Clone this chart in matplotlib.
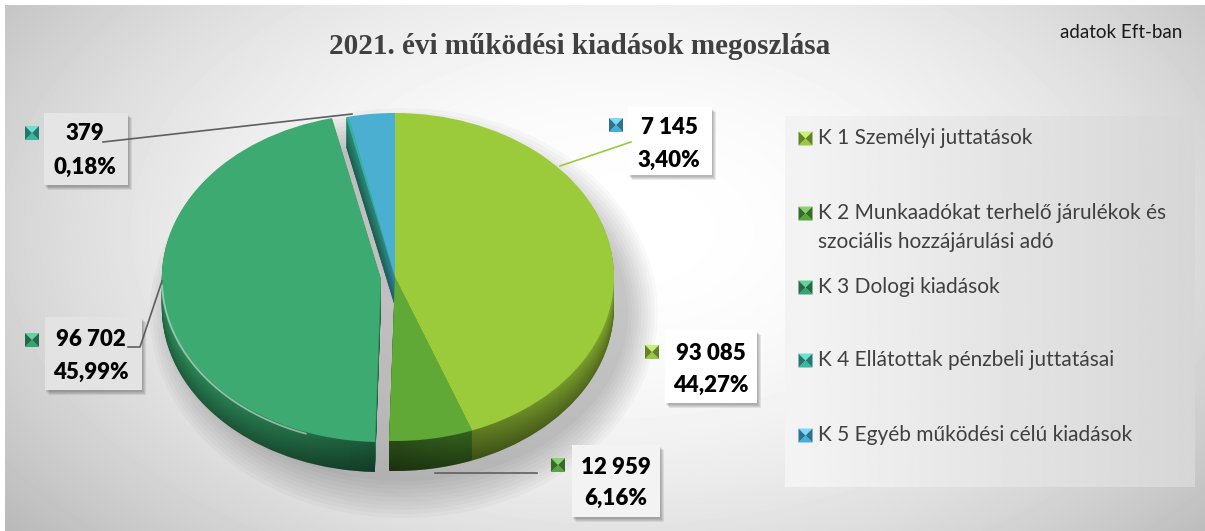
import numpy as np
import matplotlib
matplotlib.use("Agg")
import matplotlib.pyplot as plt
from matplotlib.patches import Rectangle, Polygon, Ellipse, PathPatch
from matplotlib.path import Path
import matplotlib.colors as mcolors

# ---------------- data ----------------
categories = [
    "K 1 Személyi juttatások",
    "K 2 Munkaadókat terhelő járulékok és\nszociális hozzájárulási adó",
    "K 3 Dologi kiadások",
    "K 4 Ellátottak pénzbeli juttatásai",
    "K 5 Egyéb működési célú kiadások",
]
values = [93085, 12959, 96702, 379, 7145]
title = "2021. évi működési kiadások megoszlása"
unit_note = "adatok Eft-ban"

# ---------------- style ----------------
top_colors = ["#9BCB3B", "#60A937", "#3DAA72", "#3AB39C", "#4BAFD2"]
side_colors = ["#8AB332", "#4E8F2C", "#329A64", "#2E9A85", "#3C98BA"]
marker_colors = ["#8DBB38", "#4F9A37", "#2F9966", "#33AA99", "#3FA2CB"]
explode = [0, 0, 0.065, 0, 0]

W, H = 1205, 531
fig = plt.figure(figsize=(W / 100, H / 100), dpi=100)
fig.patch.set_facecolor("white")


def bg_value(x, y):
    d2 = ((x - 620) / 700.0) ** 2 + ((y - 230) / 420.0) ** 2
    return np.clip(255 - 55 * d2, 0, 255) / 255.0


# background (radial gradient)
ax_bg = fig.add_axes([0, 0, 1, 1])
ax_bg.set_xlim(0, W)
ax_bg.set_ylim(H, 0)
ax_bg.axis("off")
yy, xx = np.mgrid[5:H, 5:W]
ax_bg.imshow(bg_value(xx, yy), cmap="gray", vmin=0, vmax=1, extent=(5, W, H, 5),
             aspect="auto", interpolation="bilinear", zorder=0)

# legend box gradient
lx0, lx1, ly0, ly1 = 785, 1195, 116, 487
grad = np.linspace(244, 214, 200)[None, :] / 255.0
grad = np.repeat(grad, 10, axis=0)
ax_bg.imshow(grad, cmap="gray", vmin=0, vmax=1, extent=(lx0, lx1, ly1, ly0),
             aspect="auto", interpolation="bilinear", zorder=1)

# ---------------- pie ----------------
cx_px, cy_px, rx_px, ry_px = 395, 277, 219, 164
depth_px = 30
ax_l, ax_r, ax_t, ax_b = 95, 695, 60, 525
ax = fig.add_axes([ax_l / W, (H - ax_b) / H, (ax_r - ax_l) / W, (ax_b - ax_t) / H])
ax.patch.set_alpha(0)

# soft shadow under the pie
for k in range(10):
    ax.add_patch(Ellipse((0.04, -0.22), 2.05 + 0.03 * k, 2.05 + 0.05 * k,
                         facecolor="black", edgecolor="none", alpha=0.025, zorder=0))


def shade(c, f):
    r, g, b = mcolors.to_rgb(c)
    return (min(1, r * f), min(1, g * f), min(1, b * f))


depth = depth_px / ry_px
n_layers = 30
for i in range(n_layers, 0, -1):
    t = i / n_layers
    cols = [shade(c, 0.92 - 0.32 * t) for c in side_colors]
    ax.pie(values, explode=explode, colors=cols, startangle=90, counterclock=False,
           center=(0, -depth * t), radius=1,
           wedgeprops=dict(linewidth=0.3, edgecolor="none"))
ax.pie(values, explode=explode, colors=top_colors, startangle=90, counterclock=False,
       center=(0, 0), radius=1, wedgeprops=dict(linewidth=0))
ax.set_aspect("auto")
ax.set_xlim(-(cx_px - ax_l) / rx_px, (ax_r - cx_px) / rx_px)
ax.set_ylim(-(ax_b - cy_px) / ry_px, (cy_px - ax_t) / ry_px)
ax.axis("off")

# ---------------- overlay (side shading, labels, legend, title) ----------------
ov = fig.add_axes([0, 0, 1, 1])
ov.set_xlim(0, W)
ov.set_ylim(H, 0)
ov.axis("off")
ov.patch.set_alpha(0)

# side shading: darker towards the front centre, clipped to the visible side band
total = sum(values)
cum = np.concatenate([[0], np.cumsum(values)]) / total
ang_start = 90 - 360 * cum[:-1]
ang_end = 90 - 360 * cum[1:]
verts, codes = [], []
for i in range(len(values)):
    a1, a2 = ang_start[i], ang_end[i]
    lo, hi = max(min(a1, a2), -180), min(max(a1, a2), 0)
    if lo >= hi:
        continue
    mid = np.radians((a1 + a2) / 2)
    ox = explode[i] * np.cos(mid) * rx_px
    oy = -explode[i] * np.sin(mid) * ry_px
    th = np.radians(np.linspace(hi, lo, 80))
    top = np.column_stack([cx_px + ox + rx_px * np.cos(th), cy_px + oy - ry_px * np.sin(th)])
    bot = top[::-1] + np.array([0, depth_px])
    poly = np.vstack([top, bot, top[:1]])
    verts.extend(poly.tolist())
    codes.extend([Path.MOVETO] + [Path.LINETO] * (len(poly) - 2) + [Path.CLOSEPOLY])
side_path = Path(verts, codes)
clip_patch = PathPatch(side_path, transform=ov.transData, facecolor="none", edgecolor="none")
ov.add_patch(clip_patch)
gx = np.linspace(cx_px - rx_px - 20, cx_px + rx_px + 10, 300)
alpha_row = 0.42 * np.clip(1 - np.abs(gx - cx_px) / rx_px, 0, 1) ** 1.2
rgba = np.zeros((2, len(gx), 4))
rgba[..., 3] = alpha_row[None, :]
im = ov.imshow(rgba, extent=(gx[0], gx[-1], cy_px + ry_px + depth_px + 5, cy_px),
               aspect="auto", interpolation="bilinear", zorder=0.5)
im.set_clip_path(clip_patch)

# light rim highlight on the front edge of the exploded slice
mid3 = np.radians((ang_start[2] + ang_end[2]) / 2)
th = np.radians(np.linspace(-110, -178, 60))
ov.plot(cx_px + explode[2] * np.cos(mid3) * rx_px + rx_px * np.cos(th),
        cy_px - explode[2] * np.sin(mid3) * ry_px - ry_px * np.sin(th) + 1.5,
        color="white", alpha=0.5, lw=1.3, zorder=0.6, solid_capstyle="round")

ov.set_xlim(0, W)
ov.set_ylim(H, 0)

TXT = "#404040"
ov.text(580, 46, title, ha="center", va="center", fontsize=21, fontweight="bold",
        family="Liberation Serif", color=TXT)
ov.text(1121, 33, unit_note, ha="center", va="center", fontsize=13.5,
        family="Lato", color="#1a1a1a")


def bevel(x, y, s, color):
    h = s / 2
    c = mcolors.to_rgb(color)
    light = tuple(min(1, v + 0.22) for v in c)
    dark = shade(color, 0.7)
    ov.add_patch(Polygon([(x - h, y - h), (x + h, y - h), (x, y)], closed=True,
                         facecolor=light, edgecolor="none", zorder=6))
    ov.add_patch(Polygon([(x - h, y + h), (x + h, y + h), (x, y)], closed=True,
                         facecolor=shade(color, 1.08), edgecolor="none", zorder=6))
    ov.add_patch(Polygon([(x - h, y - h), (x - h, y + h), (x, y)], closed=True,
                         facecolor=dark, edgecolor="none", zorder=6))
    ov.add_patch(Polygon([(x + h, y - h), (x + h, y + h), (x, y)], closed=True,
                         facecolor=dark, edgecolor="none", zorder=6))


# legend entries
leg_y = [138, (213, 242), 287, 360, 435]
for cat, col, yv in zip(categories, marker_colors, leg_y):
    lines = cat.split("\n")
    ys = yv if isinstance(yv, tuple) else (yv,)
    bevel(805.5, ys[0] + 0.5, 14, col)
    for ln, yl in zip(lines, ys):
        ov.text(818, yl, ln, ha="left", va="center", fontsize=15, family="Lato",
                color=TXT, zorder=6)

# data labels
val_txt = [f"{v:,}".replace(",", " ") for v in values]
pct_txt = [f"{100 * v / total:.2f}%".replace(".", ",") for v in values]
# (box x0, x1, y0, y1), text center x, line1 y, line2 y, marker (x, y)
label_pos = [
    ((665, 757, 330, 403), 711, 353, 385, (652, 352)),
    ((572, 660, 445, 517), 616, 467, 498, (558, 465)),
    ((45, 142, 317, 390), 91, 339, 372, (32, 340)),
    ((44, 128, 113, 185), 85, 134, 167, (32, 133)),
    ((628, 712, 107, 175), 669, 127, 160, (616, 125)),
]
for (box, tx, y1, y2, mk), vt, pt, col in zip(label_pos, val_txt, pct_txt, marker_colors):
    x0, x1, b0, b1 = box
    for k in range(4):
        ov.add_patch(Rectangle((x0 + 1 + k, b0 + 2 + k), x1 - x0, b1 - b0,
                               facecolor="black", edgecolor="none", alpha=0.08, zorder=3))
    bv = float(min(1.0, bg_value((x0 + x1) / 2, (b0 + b1) / 2) + 0.03))
    ov.add_patch(Rectangle((x0, b0), x1 - x0, b1 - b0, facecolor=(bv, bv, bv),
                           edgecolor="none", zorder=4))
    ov.text(tx, y1, vt, ha="center", va="center", fontsize=16, fontweight="heavy",
            family="Lato", color="black", zorder=5)
    ov.text(tx, y2, pt, ha="center", va="center", fontsize=16, fontweight="heavy",
            family="Lato", color="black", zorder=5)
    bevel(mk[0], mk[1], 14, col)

# leader lines
ov.plot([103, 352], [142, 114], color="#5f5f5f", lw=1.2, zorder=5)
ov.plot([128, 140, 162], [347, 347, 281], color="#5f5f5f", lw=1.2, zorder=5)
ov.plot([435, 537], [473, 473], color="#5f5f5f", lw=1.2, zorder=5)
ov.plot([560, 631], [166, 142], color="#9BCB3B", lw=1.2, zorder=5)

fig.savefig("out.png", dpi=100)
